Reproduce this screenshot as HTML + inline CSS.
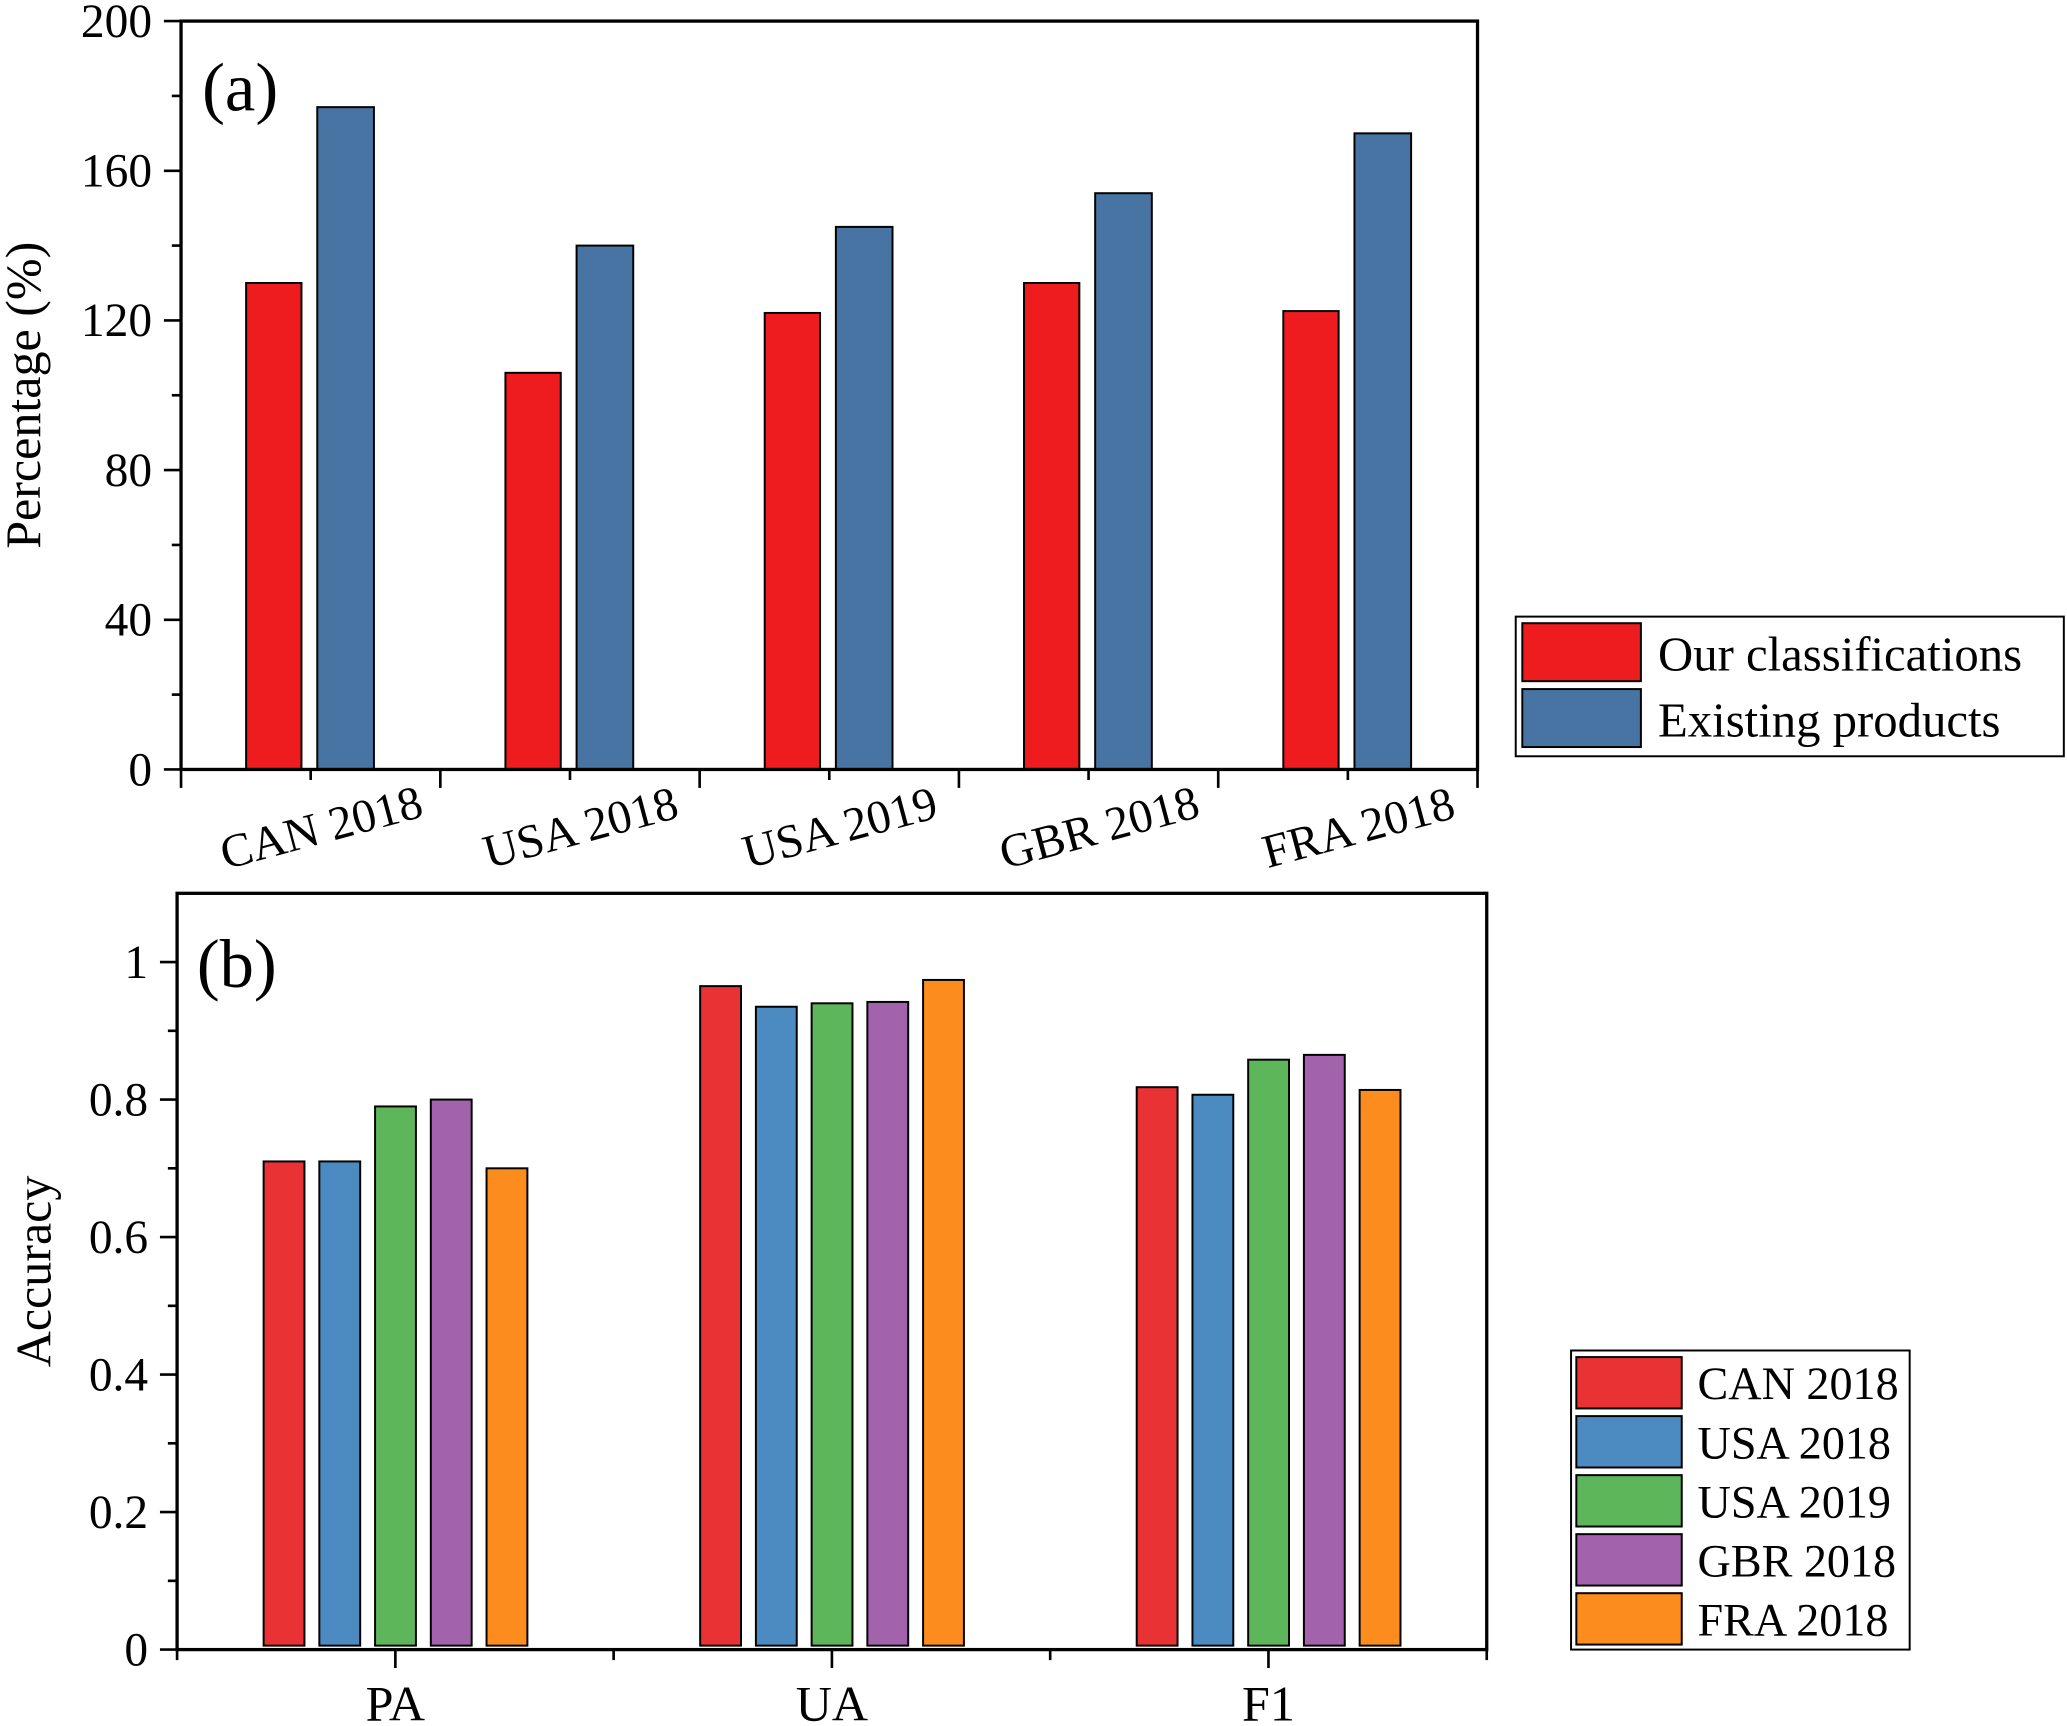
<!DOCTYPE html>
<html><head><meta charset="utf-8"><style>
html,body{margin:0;padding:0;background:#fff;}
svg{display:block;}
text{font-family:"Liberation Serif","Times New Roman",Times,serif;}
</style></head><body>
<svg id="chart" width="2067" height="1726" viewBox="0 0 1568 1310" xmlns="http://www.w3.org/2000/svg" font-family="Liberation Serif, Times New Roman, serif">
<g id="pa"></g>
<g id="pb"></g>
</svg>
<script>
const catsA = ["CAN 2018","USA 2018","USA 2019","GBR 2018","FRA 2018"];
const ourVals = [130, 106, 122, 130, 122.5];
const existVals = [177, 140, 145, 154, 170];
const ticksA = [0,40,80,120,160,200];
const catsB = ["PA","UA","F1"];
const seriesB = ["CAN 2018","USA 2018","USA 2019","GBR 2018","FRA 2018"];
const can18 = [0.71, 0.965, 0.818];
const usa18 = [0.71, 0.935, 0.807];
const usa19 = [0.79, 0.94, 0.858];
const gbr18 = [0.80, 0.942, 0.865];
const fra18 = [0.70, 0.974, 0.814];
const ticksB = [0,0.2,0.4,0.6,0.8,1];
const colorsB = ["#e83234","#4b8bc1","#5db65a","#a362ac","#fb8c1d"];
const NS="http://www.w3.org/2000/svg";
const FF="Liberation Serif, Times New Roman, serif";
function mk(parent,tag,attrs,text){const e=document.createElementNS(NS,tag);for(const k in attrs)e.setAttribute(k,attrs[k]);if(tag==='text')e.setAttribute('font-family',FF);if(text!==undefined)e.textContent=text;parent.appendChild(e);return e;}

// Panel A
const pa=document.getElementById('pa');
const aL=137,aR=1121,aT=16,aB=584;
const yA=v=>aB-(v/200)*(aB-aT);
const gwA=(aR-aL)/5;
const xA=i=>aL+gwA*(i+0.5);
for(let i=0;i<catsA.length;i++){
  let r=mk(pa,'rect',{x:xA(i)-49,y:yA(ourVals[i]),width:42,height:aB-yA(ourVals[i]),fill:'#ee1c1e',stroke:'#000','stroke-width':1.5});
  
  
  let b=mk(pa,'rect',{x:xA(i)+5,y:yA(existVals[i]),width:43,height:aB-yA(existVals[i]),fill:'#4774a2',stroke:'#000','stroke-width':1.5});
  
  
  let t=mk(pa,'text',{x:xA(i)+8,y:640,'font-size':36,'text-anchor':'middle',transform:`rotate(-15 ${xA(i)+8} 628)`},catsA[i]);
  
  
  mk(pa,'line',{x1:xA(i),x2:xA(i),y1:aB,y2:aB+8,stroke:'#000','stroke-width':2});
  mk(pa,'line',{x1:aL+gwA*i,x2:aL+gwA*i,y1:aB,y2:aB+14,stroke:'#000','stroke-width':2});
}
mk(pa,'line',{x1:aR,x2:aR,y1:aB,y2:aB+14,stroke:'#000','stroke-width':2});
for(let k=0;k<=10;k++){const v=k*20;mk(pa,'line',{x1:aL-(k%2?7:13),x2:aL,y1:yA(v),y2:yA(v),stroke:'#000','stroke-width':2});}
for(const v of ticksA){let t=mk(pa,'text',{x:aL-22,y:yA(v)+12,'font-size':36,'text-anchor':'end'},String(v));}
let fa=mk(pa,'rect',{x:aL,y:aT,width:aR-aL,height:aB-aT,fill:'none',stroke:'#000','stroke-width':2.5});

let la=mk(pa,'text',{x:153,y:84,'font-size':52},'(a)');
let ya=mk(pa,'text',{x:0,y:0,'font-size':38,'text-anchor':'middle',transform:'translate(30 300) rotate(-90)'},'Percentage (%)');
let lga=mk(pa,'g',{});
mk(lga,'rect',{x:1150,y:468,width:416,height:106,fill:'#fff',stroke:'#000','stroke-width':1.5});
mk(lga,'rect',{x:1155,y:473,width:90,height:44,fill:'#ee1c1e',stroke:'#000','stroke-width':1.5});
mk(lga,'rect',{x:1155,y:523,width:90,height:44,fill:'#4774a2',stroke:'#000','stroke-width':1.5});
mk(lga,'text',{x:1258,y:509,'font-size':37},'Our classifications');
mk(lga,'text',{x:1258,y:559,'font-size':37},'Existing products');

// Panel B
const pb=document.getElementById('pb');
const bL=134,bR=1128,bT=678,bB=1252;
const yB=v=>bB-(v/1.1)*(bB-bT);
const gwB=(bR-bL)/3;
const xB=i=>bL+gwB*(i+0.5);
const allB=[can18,usa18,usa19,gbr18,fra18];
for(let i=0;i<catsB.length;i++){
  for(let s=0;s<5;s++){
    const v=allB[s][i];
    let r=mk(pb,'rect',{x:xB(i)-100+s*42.3,y:yB(v),width:31,height:bB-3-yB(v),fill:colorsB[s],stroke:'#000','stroke-width':1.5});
    
    
  }
  let t=mk(pb,'text',{x:xB(i),y:1306,'font-size':38,'text-anchor':'middle'},catsB[i]);
  
  mk(pb,'line',{x1:xB(i),x2:xB(i),y1:bB,y2:bB+14,stroke:'#000','stroke-width':2});
  mk(pb,'line',{x1:bL+gwB*i,x2:bL+gwB*i,y1:bB,y2:bB+8,stroke:'#000','stroke-width':2});
}
mk(pb,'line',{x1:bR,x2:bR,y1:bB,y2:bB+8,stroke:'#000','stroke-width':2});
for(let k=0;k<=10;k++){const v=k*0.1;mk(pb,'line',{x1:bL-(k%2?7:13),x2:bL,y1:yB(v),y2:yB(v),stroke:'#000','stroke-width':2});}
for(const v of ticksB){let t=mk(pb,'text',{x:bL-22,y:yB(v)+12,'font-size':36,'text-anchor':'end'},String(v));}
let fb=mk(pb,'rect',{x:bL,y:bT,width:bR-bL,height:bB-bT,fill:'none',stroke:'#000','stroke-width':2.5});

let lb=mk(pb,'text',{x:149,y:749,'font-size':52},'(b)');
let yb=mk(pb,'text',{x:0,y:0,'font-size':38,'text-anchor':'middle',transform:'translate(38 965) rotate(-90)'},'Accuracy');
let lgb=mk(pb,'g',{});
mk(lgb,'rect',{x:1192,y:1025,width:257,height:227,fill:'#fff',stroke:'#000','stroke-width':1.5});
for(let s=0;s<5;s++){
  const y0=1030+s*44.8;
  mk(lgb,'rect',{x:1196,y:y0,width:80,height:39,fill:colorsB[s],stroke:'#000','stroke-width':1.5});
  mk(lgb,'text',{x:1288,y:y0+32,'font-size':35},seriesB[s]);
}
</script>
</body></html>
